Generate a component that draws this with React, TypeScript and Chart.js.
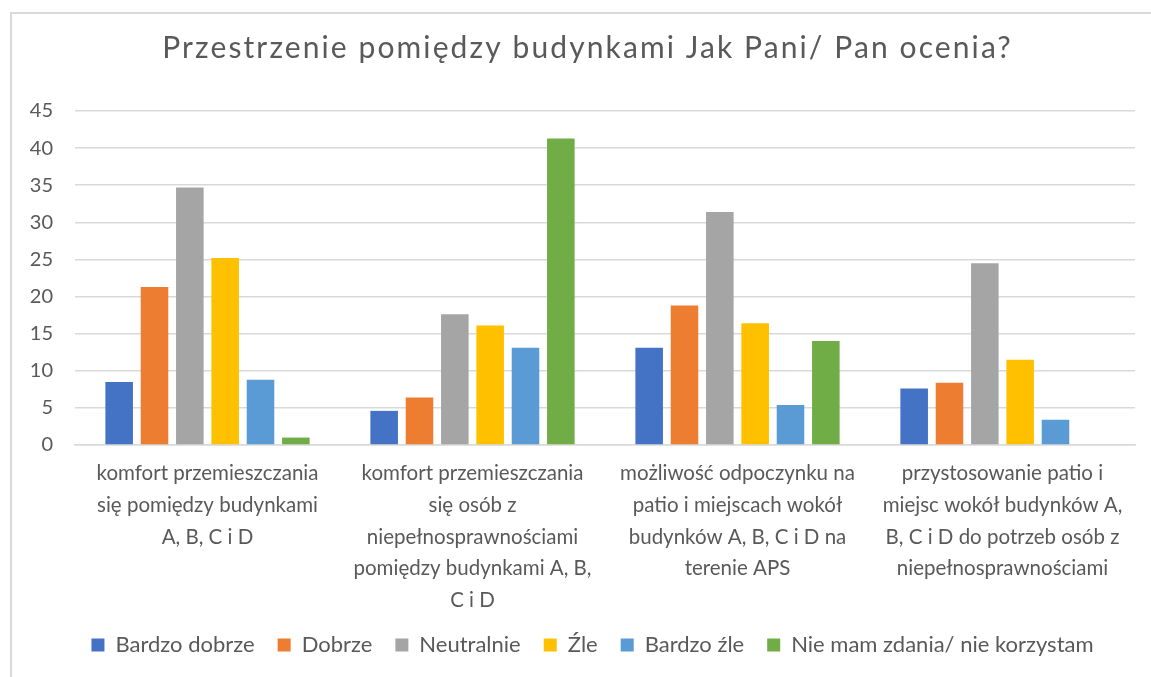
import React, { useEffect, useRef } from "react";
import { Chart, registerables } from "chart.js";

Chart.register(...registerables);

const titleText = "Przestrzenie pomiędzy budynkami Jak Pani/ Pan ocenia?";

const categories: string[][] = [
  ["komfort przemieszczania", "się pomiędzy budynkami", "A, B, C i D"],
  ["komfort przemieszczania", "się osób z", "niepełnosprawnościami", "pomiędzy budynkami A, B,", "C i D"],
  ["możliwość odpoczynku na", "patio i miejscach wokół", "budynków A, B, C i D na", "terenie APS"],
  ["przystosowanie patio i", "miejsc wokół budynków A,", "B, C i D do potrzeb osób z", "niepełnosprawnościami"],
];

const seriesNames = ["Bardzo dobrze", "Dobrze", "Neutralnie", "Źle", "Bardzo źle", "Nie mam zdania/ nie korzystam"];
const seriesColors = ["#4472C4", "#ED7D31", "#A5A5A5", "#FFC000", "#5B9BD5", "#70AD47"];

const bardzoDobrze = [8.5, 4.6, 13.1, 7.6];
const dobrze = [21.3, 6.4, 18.8, 8.4];
const neutralnie = [34.7, 17.6, 31.4, 24.5];
const zle = [25.2, 16.1, 16.4, 11.5];
const bardzoZle = [8.8, 13.1, 5.4, 3.4];
const nieMamZdania = [1.0, 41.3, 14.0, 0];

const seriesValues = [bardzoDobrze, dobrze, neutralnie, zle, bardzoZle, nieMamZdania];

const yMin = 0;
const yMax = 45;
const yStep = 5;

const textColor = "#595959";
const gridColor = "#D9D9D9";
const fontFamily = "Lato, 'Open Sans', sans-serif";

const spacedTitle = {
  id: "spacedTitle",
  afterLayout(chart: any) {
    if (chart.legend) {
      chart.legend.left = 50;
    }
  },
  afterDraw(chart: any) {
    const ctx = chart.ctx as CanvasRenderingContext2D;
    ctx.save();
    ctx.font = `normal 30px ${fontFamily}`;
    ctx.fillStyle = textColor;
    ctx.textAlign = "center";
    ctx.textBaseline = "middle";
    (ctx as any).letterSpacing = "2.1px";
    ctx.fillText(titleText, chart.width / 2 + 12, 48);
    ctx.restore();
  },
};

export default function App() {
  const canvasRef = useRef<HTMLCanvasElement | null>(null);

  useEffect(() => {
    if (!canvasRef.current) return;
    const chart = new Chart(canvasRef.current, {
      type: "bar",
      data: {
        labels: categories,
        datasets: seriesNames.map((name, i) => ({
          label: name,
          data: seriesValues[i],
          backgroundColor: seriesColors[i],
          borderWidth: 0,
          categoryPercentage: 0.8,
          barPercentage: 0.78,
        })),
      },
      plugins: [spacedTitle],
      options: {
        animation: false,
        responsive: false,
        maintainAspectRatio: false,
        layout: { padding: { left: 0, right: 16, top: 111, bottom: 11 } },
        plugins: {
          title: { display: false },
          legend: {
            position: "bottom",
            labels: {
              color: textColor,
              font: { family: fontFamily, size: 22 },
              boxWidth: 13,
              boxHeight: 13,
              padding: 23,
            },
          },
          tooltip: { enabled: false },
        },
        scales: {
          x: {
            grid: { display: false, drawTicks: false },
            border: { display: true, color: gridColor, width: 1.5 },
            ticks: {
              color: textColor,
              font: { family: fontFamily, size: 20.5, lineHeight: 1.54 },
              maxRotation: 0,
              autoSkip: false,
              padding: 13,
            },
            afterFit: (scale: any) => {
              scale.height = 166;
            },
          },
          y: {
            min: yMin,
            max: yMax,
            grid: { color: gridColor, lineWidth: 1.5, drawTicks: false },
            border: { display: false },
            ticks: {
              stepSize: yStep,
              color: textColor,
              font: { family: fontFamily, size: 20 },
              padding: 22,
            },
            afterFit: (scale: any) => {
              scale.width = 75;
            },
          },
        },
      },
    });
    return () => chart.destroy();
  }, []);

  return (
    <div style={{ position: "fixed", left: 0, top: 0, width: 1151, height: 677, overflow: "hidden", background: "#fff" }}>
      <div
        style={{
          position: "absolute",
          left: 10,
          top: 12,
          width: 1200,
          height: 700,
          borderLeft: "2px solid #D9D9D9",
          borderTop: "2px solid #D9D9D9",
        }}
      />
      <canvas ref={canvasRef} width={1151} height={677} style={{ position: "absolute", left: 0, top: 0 }} />
    </div>
  );
}
